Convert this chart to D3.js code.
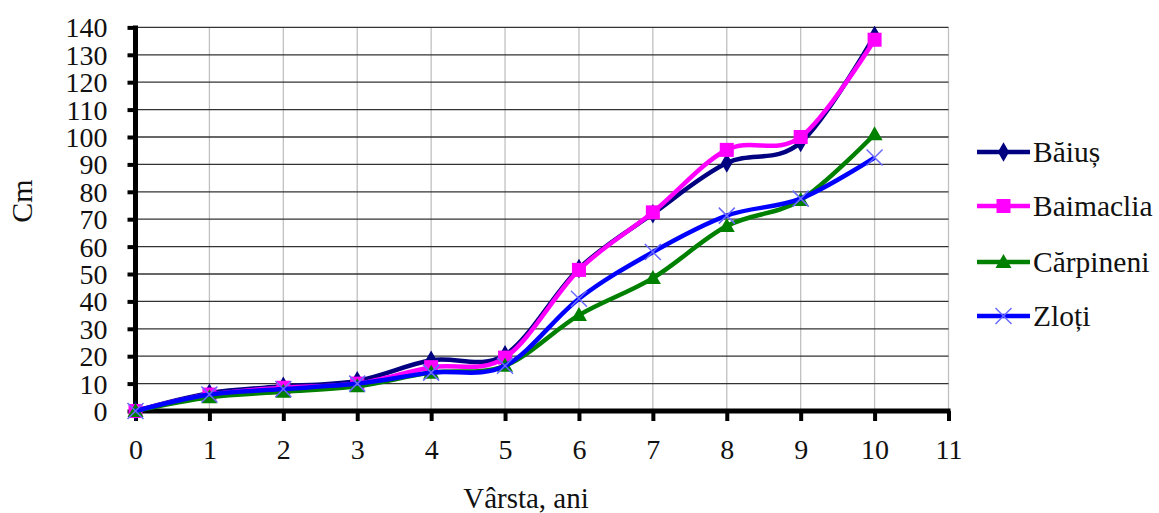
<!DOCTYPE html>
<html><head><meta charset="utf-8">
<script src="https://cdn.jsdelivr.net/npm/d3@7"></script>
<style>body{margin:0;background:#fff}svg{display:block}text{font-family:'Liberation Serif','Times New Roman',serif;fill:#111}</style>
</head><body>
<svg id="c" width="1159" height="513"></svg>
<script>
const ages = [0,1,2,3,4,5,6,7,8,9,10];
const xTicks = [0,1,2,3,4,5,6,7,8,9,10,11];
const yTicks = [0,10,20,30,40,50,60,70,80,90,100,110,120,130,140];
const seriesNames = ["Băiuș","Baimaclia","Cărpineni","Zloți"];
const baius     = [0,6.5,9,11,18.5,20.5,52,72,90.5,98,137];
const baimaclia = [0,6,8.5,10,16,19.5,51.5,72.5,95.3,100,135.5];
const carpineni = [0,5,7,9,14,16.5,35,48.5,67.5,77,101];
const zloti     = [0,6,8,10,14,16.5,41,58,71.3,77.5,92.5];
const colors = ["#000080","#ff00ff","#008000","#0000ff"];
const markerTypes = ["diamond","square","triangle","cross"];
const values = [baius,baimaclia,carpineni,zloti];
const FONT = "'Liberation Serif','Times New Roman',serif";

const svg = d3.select("#c");
const x = d3.scaleLinear().domain([0,11]).range([135.5,948.5]);
const y = d3.scaleLinear().domain([0,140]).range([411,27.4]);

// vertical grid
svg.append("g").selectAll("line").data(xTicks.slice(1)).join("line")
  .attr("x1",d=>x(d)).attr("x2",d=>x(d)).attr("y1",y(140)).attr("y2",y(0))
  .attr("stroke","#c0c0c0").attr("stroke-width",1.3);
// horizontal grid
svg.append("g").selectAll("line").data(yTicks.slice(1)).join("line")
  .attr("x1",x(0)).attr("x2",x(11)).attr("y1",d=>y(d)).attr("y2",d=>y(d))
  .attr("stroke","#333").attr("stroke-width",1.3);

// axes
const yAxis = svg.append("g").attr("transform",`translate(${x(0)},0)`)
  .call(d3.axisLeft(y).tickValues(yTicks).tickSize(8).tickPadding(20).tickFormat(d3.format("d")));
const xAxis = svg.append("g").attr("transform",`translate(0,${y(0)})`)
  .call(d3.axisBottom(x).tickValues(xTicks).tickSize(10).tickPadding(18).tickFormat(d3.format("d")));
[yAxis,xAxis].forEach(g=>{
  g.attr("font-family",FONT).attr("font-size",28);
  g.select(".domain").attr("stroke","#000").attr("stroke-width",5);
  g.selectAll(".tick line").attr("stroke","#000").attr("stroke-width",4);
  g.selectAll(".tick text").style("font-family",FONT).style("font-size","28px").attr("fill","#111");
});
yAxis.select(".domain").attr("d",`M0,${y(140)-2}V${y(0)+2}`);
xAxis.select(".domain").attr("d",`M${x(0)-2},0H${x(11)+2}`);
yAxis.selectAll(".tick text").attr("dy","0.34em");

// series
const line = d3.line().x((d,i)=>x(ages[i])).y(d=>y(d)).curve(d3.curveCardinal.tension(0));
function marker(g,type,color,cx,cy){
  if(type==="diamond"){
    g.append("path").attr("d",d3.symbol(d3.symbolDiamond,110)()).attr("transform",`translate(${cx},${cy})`).attr("fill",color);
  } else if(type==="square"){
    g.append("rect").attr("x",cx-7).attr("y",cy-7).attr("width",14).attr("height",14).attr("fill",color);
  } else if(type==="triangle"){
    g.append("path").attr("d",`M${cx},${cy-8}L${cx+8},${cy+6}L${cx-8},${cy+6}Z`).attr("fill",color);
  } else {
    g.append("path").attr("d",`M${cx-8},${cy-8}L${cx+8},${cy+8}M${cx-8},${cy+8}L${cx+8},${cy-8}`)
      .attr("stroke","#6a6aff").attr("stroke-width",1.5).attr("fill","none");
  }
}
values.forEach((vals,si)=>{
  const g = svg.append("g");
  g.append("path").datum(vals).attr("d",line).attr("fill","none")
    .attr("stroke",colors[si]).attr("stroke-width",4.5).attr("stroke-linejoin","round");
  vals.forEach((v,i)=>marker(g,markerTypes[si],colors[si],x(ages[i]),y(v)));
});

// legend
const legY = [152,206,262,316];
seriesNames.forEach((n,i)=>{
  const g = svg.append("g");
  g.append("line").attr("x1",977).attr("x2",1030).attr("y1",legY[i]).attr("y2",legY[i])
    .attr("stroke",colors[i]).attr("stroke-width",4.5);
  marker(g,markerTypes[i],colors[i],1003.5,legY[i]);
  g.append("text").attr("x",1033).attr("y",legY[i]+10).style("font-family",FONT).style("font-size","29.5px").text(n);
});

// axis titles
svg.append("text").attr("transform","translate(32,201) rotate(-90)").attr("text-anchor","middle")
  .style("font-family",FONT).style("font-size","30px").text("Cm");
svg.append("text").attr("x",526).attr("y",508).attr("text-anchor","middle")
  .style("font-family",FONT).style("font-size","29px").text("Vârsta, ani");
</script>
</body></html>
